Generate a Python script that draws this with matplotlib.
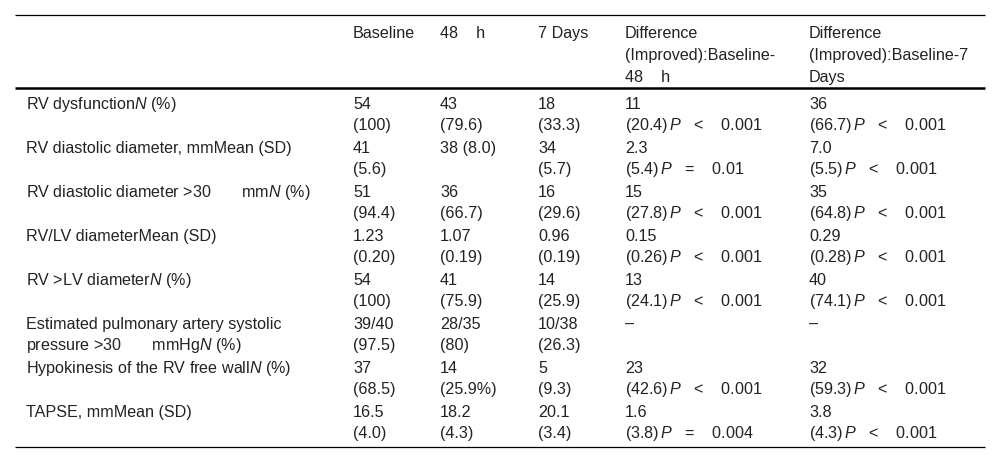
import matplotlib
matplotlib.use("Agg")
import matplotlib.pyplot as plt

plt.rcParams['font.family'] = ['Liberation Sans', 'DejaVu Sans']
plt.rcParams['mathtext.fontset'] = 'custom'
plt.rcParams['mathtext.rm'] = 'Liberation Sans'
plt.rcParams['mathtext.it'] = 'Liberation Sans:italic'

# header of the table (one string per line)
headers = [
    ["Baseline"],
    ["48    h"],
    ["7 Days"],
    ["Difference", "(Improved):Baseline-", "48    h"],
    ["Difference", "(Improved):Baseline-7", "Days"],
]

row_labels = [
    ["RV dysfunction$\\mathit{N}$ (%)"],
    ["RV diastolic diameter, mmMean (SD)"],
    ["RV diastolic diameter >30       mm$\\mathit{N}$ (%)"],
    ["RV/LV diameterMean (SD)"],
    ["RV >LV diameter$\\mathit{N}$ (%)"],
    ["Estimated pulmonary artery systolic", "pressure >30       mmHg$\\mathit{N}$ (%)"],
    ["Hypokinesis of the RV free wall$\\mathit{N}$ (%)"],
    ["TAPSE, mmMean (SD)"],
]

P_LT = "$\\,\\mathit{P}$   <    "
P_EQ = "$\\,\\mathit{P}$   =    "

baseline = [["54", "(100)"], ["41", "(5.6)"], ["51", "(94.4)"], ["1.23", "(0.20)"],
            ["54", "(100)"], ["39/40", "(97.5)"], ["37", "(68.5)"], ["16.5", "(4.0)"]]
h48 = [["43", "(79.6)"], ["38 (8.0)"], ["36", "(66.7)"], ["1.07", "(0.19)"],
       ["41", "(75.9)"], ["28/35", "(80)"], ["14", "(25.9%)"], ["18.2", "(4.3)"]]
days7 = [["18", "(33.3)"], ["34", "(5.7)"], ["16", "(29.6)"], ["0.96", "(0.19)"],
         ["14", "(25.9)"], ["10/38", "(26.3)"], ["5", "(9.3)"], ["20.1", "(3.4)"]]
diff48 = [["11", "(20.4)" + P_LT + "0.001"], ["2.3", "(5.4)" + P_EQ + "0.01"],
          ["15", "(27.8)" + P_LT + "0.001"], ["0.15", "(0.26)" + P_LT + "0.001"],
          ["13", "(24.1)" + P_LT + "0.001"], ["\u2013"],
          ["23", "(42.6)" + P_LT + "0.001"], ["1.6", "(3.8)" + P_EQ + "0.004"]]
diff7 = [["36", "(66.7)" + P_LT + "0.001"], ["7.0", "(5.5)" + P_LT + "0.001"],
         ["35", "(64.8)" + P_LT + "0.001"], ["0.29", "(0.28)" + P_LT + "0.001"],
         ["40", "(74.1)" + P_LT + "0.001"], ["\u2013"],
         ["32", "(59.3)" + P_LT + "0.001"], ["3.8", "(4.3)" + P_LT + "0.001"]]

columns = [row_labels, baseline, h48, days7, diff48, diff7]
col_x = [26, 353, 440, 538, 625, 809]

W, H = 1000, 464
fig = plt.figure(figsize=(W / 100, H / 100), dpi=100)
ax = fig.add_axes([0, 0, 1, 1])
ax.set_xlim(0, W)
ax.set_ylim(H, 0)
ax.axis('off')

fs = 11.6
color = '#222222'
line_h = 21.5
row_h = 44
head_y0 = 32
head_h = 22
body_y0 = 103
base_off = 5.6  # centre of the cap height -> baseline

# rules
ax.plot([15, 985], [16, 16], color='black', lw=0.9, solid_capstyle='butt')
ax.plot([15, 985], [89, 89], color='black', lw=1.8, solid_capstyle='butt')
ax.plot([15, 985], [448, 448], color='black', lw=0.9, solid_capstyle='butt')

for j, lines in enumerate(headers):
    for k, s in enumerate(lines):
        ax.text(col_x[j + 1], head_y0 + k * head_h + base_off, s, fontsize=fs,
                color=color, ha='left', va='baseline')

for c, col in enumerate(columns):
    for i, cell in enumerate(col):
        for k, s in enumerate(cell):
            ax.text(col_x[c], body_y0 + i * row_h + k * line_h + base_off, s,
                    fontsize=fs, color=color, ha='left', va='baseline')

fig.savefig("out.png", dpi=100)
